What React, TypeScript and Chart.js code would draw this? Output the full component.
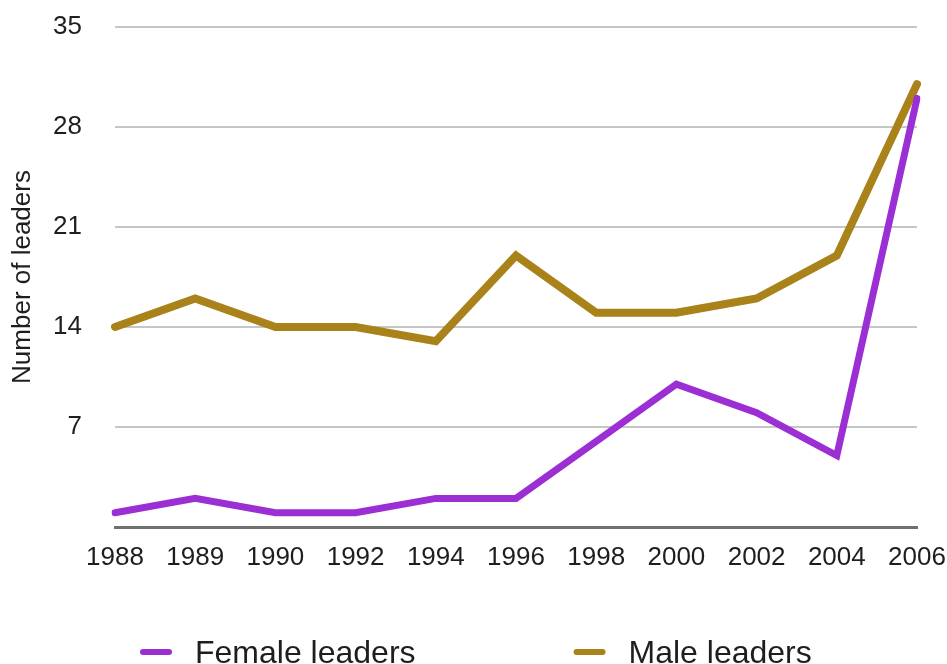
import React, { useEffect, useRef } from "react";
import { Chart, registerables } from "chart.js";

Chart.register(...registerables);

const years = ["1988", "1989", "1990", "1992", "1994", "1996", "1998", "2000", "2002", "2004", "2006"];
const femaleLeaders = [1, 2, 1, 1, 2, 2, 6, 10, 8, 5, 30];
const maleLeaders = [14, 16, 14, 14, 13, 19, 15, 15, 16, 19, 31];
const yTickValues = [7, 14, 21, 28, 35];
const seriesNames = ["Female leaders", "Male leaders"];
const seriesColors = ["#9b2fd4", "#a9821a"];
const yAxisTitle = "Number of leaders";

const FONT = '"Liberation Sans", Arial, Helvetica, sans-serif';
const TEXT = "#1e1e1e";
const CLEAR = "rgba(0,0,0,0)";

const bottomLegend = {
  id: "bottomLegend",
  afterDraw(chart: any) {
    const ctx = chart.ctx as CanvasRenderingContext2D;
    const y = 652;
    let x = 140;
    ctx.save();
    ctx.font = `32px ${FONT}`;
    chart.data.datasets.forEach((ds: any) => {
      ctx.strokeStyle = ds.borderColor;
      ctx.lineWidth = 6;
      ctx.lineCap = "round";
      ctx.beginPath();
      ctx.moveTo(x + 3, y);
      ctx.lineTo(x + 29, y);
      ctx.stroke();
      ctx.fillStyle = TEXT;
      ctx.textBaseline = "alphabetic";
      ctx.textAlign = "left";
      ctx.fillText(ds.label, x + 55, y + 11);
      x += 55 + ctx.measureText(ds.label).width + 158;
    });
    ctx.restore();
  },
};

export default function App() {
  const ref = useRef<HTMLCanvasElement>(null);

  useEffect(() => {
    if (!ref.current) return;
    const chart = new Chart(ref.current, {
      type: "line",
      data: {
        labels: years,
        datasets: [
          {
            label: seriesNames[0],
            data: femaleLeaders,
            borderColor: seriesColors[0],
            backgroundColor: seriesColors[0],
            borderWidth: 7,
            pointRadius: 0,
            tension: 0,
            borderCapStyle: "round",
            borderJoinStyle: "miter",
          },
          {
            label: seriesNames[1],
            data: maleLeaders,
            borderColor: seriesColors[1],
            backgroundColor: seriesColors[1],
            borderWidth: 8,
            pointRadius: 0,
            tension: 0,
            borderCapStyle: "round",
            borderJoinStyle: "miter",
          },
        ],
      },
      options: {
        responsive: false,
        animation: false,
        devicePixelRatio: 1,
        layout: { padding: { top: 27, right: 30, left: 0, bottom: 0 } },
        plugins: {
          legend: { display: false },
          tooltip: { enabled: false },
        },
        scales: {
          x: {
            type: "category",
            offset: false,
            grid: {
              display: true,
              drawOnChartArea: false,
              drawTicks: true,
              tickLength: 15,
              color: CLEAR,
              tickColor: CLEAR,
            },
            border: { display: true, color: "#707070", width: 3 },
            ticks: {
              autoSkip: false,
              maxRotation: 0,
              padding: 0,
              color: TEXT,
              font: { family: FONT, size: 26 },
            },
            afterFit: (scale: any) => {
              scale.height = 137;
            },
          },
          y: {
            min: 0,
            max: 35,
            afterBuildTicks: (scale: any) => {
              scale.ticks = yTickValues.map((v) => ({ value: v }));
            },
            grid: {
              color: "#c6c6c6",
              lineWidth: 2,
              drawTicks: true,
              tickLength: 33,
              tickColor: CLEAR,
            },
            border: { display: false },
            ticks: {
              padding: 0,
              color: TEXT,
              font: { family: FONT, size: 26 },
            },
            title: {
              display: true,
              text: yAxisTitle,
              color: TEXT,
              font: { family: FONT, size: 26 },
              padding: { top: 7, bottom: 0 },
            },
            afterFit: (scale: any) => {
              scale.width = 115;
            },
          },
        },
      },
      plugins: [bottomLegend],
    });
    return () => chart.destroy();
  }, []);

  return (
    <div style={{ position: "absolute", left: 0, top: 0, width: 947, height: 664, background: "#fff" }}>
      <canvas ref={ref} width={947} height={664} style={{ display: "block", width: 947, height: 664 }} />
    </div>
  );
}
